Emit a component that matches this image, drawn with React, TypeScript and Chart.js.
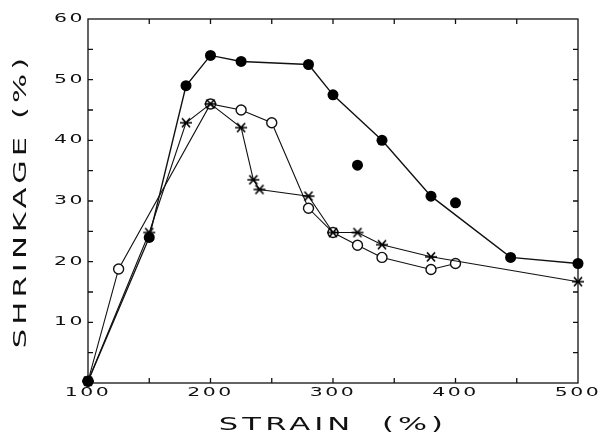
import React, { useEffect, useRef } from 'react';
import { Chart, registerables } from 'chart.js';
Chart.register(...registerables);

// Filled circles (connected)
const filledStrain = [100, 150, 180, 200, 225, 280, 300, 340, 380, 445, 500];
const filledShrink = [0.3, 24, 49, 54, 53, 52.5, 47.5, 40, 30.8, 20.7, 19.7];
// Filled circles (not on the line)
const filledLooseStrain = [320, 400];
const filledLooseShrink = [35.9, 29.7];
// Open circles
const openStrain = [100, 125, 200, 225, 250, 280, 300, 320, 340, 380, 400];
const openShrink = [0.3, 18.8, 46, 45, 42.9, 28.8, 24.8, 22.7, 20.7, 18.7, 19.7];
// Asterisks
const starStrain = [100, 150, 180, 200, 225, 235, 240, 280, 300, 320, 340, 380, 500];
const starShrink = [0.3, 24.8, 42.9, 46, 42.1, 33.5, 31.9, 30.8, 24.8, 24.8, 22.8, 20.8, 16.7];

// Axis ticks
const xTickMarks = [150, 200, 250, 300, 350, 400, 450];
const yTickMarks = [5, 10, 15, 20, 25, 30, 35, 40, 45, 50, 55];

const pts = (xs: number[], ys: number[]) => xs.map((x, i) => ({ x, y: ys[i] }));

export default function App() {
  const ref = useRef<HTMLCanvasElement>(null);
  useEffect(() => {
    document.body.style.margin = '0';
    const canvas = ref.current!;
    const ctx = canvas.getContext('2d')!;
    const origFill = ctx.fillText.bind(ctx);
    const SX = 1.7;
    (ctx as any).fillText = (t: string, x: number, y: number, mw?: number) => {
      const m = /([\d.]+)px/.exec(ctx.font);
      const size = m ? parseFloat(m[1]) : 12;
      ctx.save();
      (ctx as any).letterSpacing = size >= 15 ? '2.4px' : '1.5px';
      ctx.scale(SX, 1);
      if (mw === undefined || mw === null) origFill(t, x / SX, y);
      else origFill(t, x / SX, y, mw / SX);
      ctx.restore();
    };

    const star = document.createElement('canvas');
    star.width = 14;
    star.height = 12;
    const sc = star.getContext('2d')!;
    sc.strokeStyle = '#000';
    sc.lineWidth = 1.7;
    sc.beginPath();
    sc.moveTo(1, 6); sc.lineTo(13, 6);
    sc.moveTo(3, 1.5); sc.lineTo(11, 10.5);
    sc.moveTo(11, 1.5); sc.lineTo(3, 10.5);
    sc.stroke();

    const frame = {
      id: 'frame',
      beforeDatasetsDraw(chart: any) {
        const { ctx: c, chartArea: a, scales } = chart;
        c.save();
        c.strokeStyle = '#111';
        c.lineWidth = 1.3;
        c.strokeRect(a.left, a.top, a.right - a.left, a.bottom - a.top);
        c.beginPath();
        for (const v of xTickMarks) {
          const px = scales.x.getPixelForValue(v);
          c.moveTo(px, a.bottom); c.lineTo(px, a.bottom - 5);
          c.moveTo(px, a.top); c.lineTo(px, a.top + 5);
        }
        for (const v of yTickMarks) {
          const py = scales.y.getPixelForValue(v);
          c.moveTo(a.left, py); c.lineTo(a.left + 5, py);
          c.moveTo(a.right, py); c.lineTo(a.right - 5, py);
        }
        c.stroke();
        c.restore();
      },
    };

    const font = "'DejaVu Sans', sans-serif";
    const chart = new Chart(canvas, {
      type: 'scatter',
      data: {
        datasets: [
          {
            data: pts(filledStrain, filledShrink),
            showLine: true,
            borderColor: '#111',
            borderWidth: 1.4,
            pointStyle: 'circle',
            pointRadius: 5.5,
            pointBorderWidth: 0,
            pointBackgroundColor: '#000',
            clip: false as any,
          },
          {
            data: pts(filledLooseStrain, filledLooseShrink),
            showLine: false,
            pointStyle: 'circle',
            pointRadius: 5.5,
            pointBorderWidth: 0,
            pointBackgroundColor: '#000',
            clip: false as any,
          },
          {
            data: pts(starStrain, starShrink),
            showLine: true,
            borderColor: '#111',
            borderWidth: 1.1,
            pointStyle: star as any,
            pointRadius: 6,
            clip: false as any,
          },
          {
            data: pts(openStrain, openShrink),
            showLine: true,
            borderColor: '#111',
            borderWidth: 1.1,
            pointStyle: 'circle',
            pointRadius: 5,
            pointBorderWidth: 1.4,
            pointBackgroundColor: '#fff',
            pointBorderColor: '#111',
            clip: false as any,
          },
        ],
      },
      options: {
        animation: false,
        responsive: false,
        layout: { padding: { top: 19, right: 22, left: 0, bottom: 0 } },
        plugins: { legend: { display: false }, tooltip: { enabled: false } },
        scales: {
          x: {
            type: 'linear',
            min: 100,
            max: 500,
            grid: { display: false, drawTicks: false },
            border: { display: false },
            ticks: {
              stepSize: 100,
              padding: 3,
              color: '#111',
              font: { family: font, size: 12 },
            },
            title: {
              display: true,
              text: 'STRAIN  (%)',
              color: '#111',
              font: { family: font, size: 18, lineHeight: 1 },
              padding: { top: 0, bottom: 0 },
            },
            afterFit: (s: any) => { s.height = 51; },
          },
          y: {
            type: 'linear',
            min: 0,
            max: 60,
            grid: { display: false, drawTicks: false },
            border: { display: false },
            ticks: {
              stepSize: 10,
              padding: 3,
              color: '#111',
              font: { family: font, size: 12 },
              callback: (v: any) => (v === 0 ? '' : String(v)),
            },
            title: {
              display: true,
              text: 'SHRINKAGE (%)',
              color: '#111',
              font: { family: font, size: 18, lineHeight: 1 },
              padding: { top: 12, bottom: 0 },
            },
            afterFit: (s: any) => { s.width = 88; },
          },
        },
      },
      plugins: [frame],
    });
    return () => chart.destroy();
  }, []);
  return (
    <div style={{ width: 600, height: 434 }}>
      <canvas ref={ref} width={600} height={434} />
    </div>
  );
}
